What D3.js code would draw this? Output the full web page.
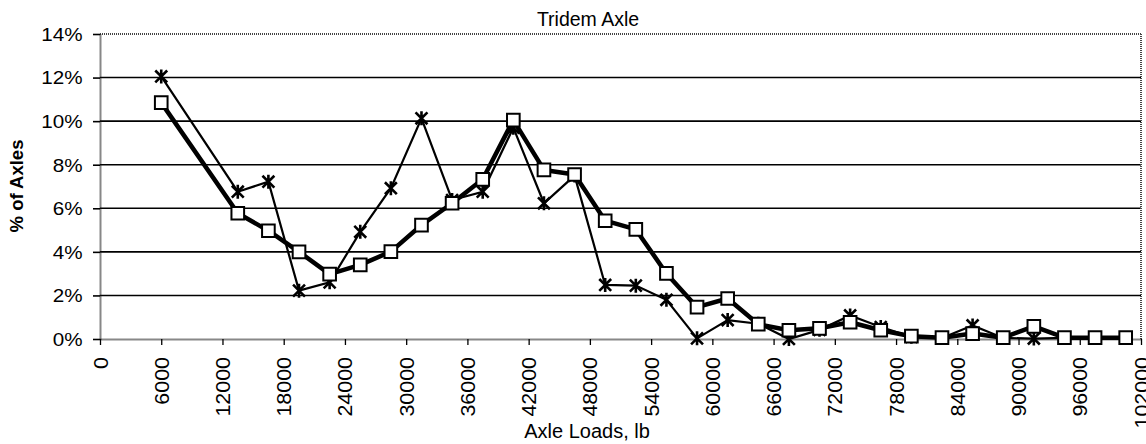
<!DOCTYPE html>
<html>
<head>
<meta charset="utf-8">
<script src="https://cdn.jsdelivr.net/npm/d3@7"></script>
<style>
  html, body { margin: 0; padding: 0; background: #fff; }
  svg { display: block; font-family: "Liberation Sans", Arial, sans-serif; }
</style>
</head>
<body>
<svg id="chart" width="1146" height="444"></svg>
<script>
// ---- data ----
const axleLoads = [6000, 13500, 16500, 19500, 22500, 25500, 28500, 31500, 34500, 37500, 40500,
  43500, 46500, 49500, 52500, 55500, 58500, 61500, 64500, 67500, 70500, 73500, 76500,
  79500, 82500, 85500, 88500, 91500, 94500, 97500, 100500];
// thin line, asterisk markers (% of axles)
const seriesStar = [12.05, 6.76, 7.22, 2.22, 2.6, 4.92, 6.92, 10.13, 6.38, 6.76, 9.7,
  6.23, 7.5, 2.48, 2.45, 1.8, 0.03, 0.87, 0.7, 0.0, 0.42, 1.08, 0.55,
  0.1, 0.05, 0.62, 0.05, 0.02, 0.05, 0.05, 0.05];
// thick line, square markers (% of axles)
const seriesSquare = [10.85, 5.77, 4.97, 4.0, 2.98, 3.4, 4.01, 5.23, 6.23, 7.33, 10.05,
  7.76, 7.55, 5.43, 5.03, 3.01, 1.46, 1.86, 0.68, 0.4, 0.49, 0.77, 0.4,
  0.13, 0.06, 0.25, 0.06, 0.58, 0.06, 0.06, 0.06];
const xTicks = [0, 6000, 12000, 18000, 24000, 30000, 36000, 42000, 48000, 54000, 60000,
  66000, 72000, 78000, 84000, 90000, 96000, 102000];
const yTicks = [0, 2, 4, 6, 8, 10, 12, 14];
const chartTitle = "Tridem Axle";
const xTitle = "Axle Loads, lb";
const yTitle = "% of Axles";

(function () {
// ---- layout ----
const svg = d3.select("#chart");
const pL = 100, pR = 1141, pT = 34, pB = 339;
const FONT = "'Liberation Sans', Arial, sans-serif";

const x = d3.scaleLinear().domain([0, 102000]).range([pL, pR]);
const y = d3.scaleLinear().domain([0, 14]).range([pB, pT]);

// gridlines
svg.append("g").selectAll("line")
  .data(yTicks.filter(d => d > 0 && d < 14))
  .join("line")
  .attr("x1", pL).attr("x2", pR)
  .attr("y1", d => y(d)).attr("y2", d => y(d))
  .attr("stroke", "#000").attr("stroke-width", 1.6);

// plot border (dotted)
svg.append("line").attr("x1", pL).attr("x2", pR).attr("y1", pT).attr("y2", pT)
  .attr("stroke", "#444").attr("stroke-width", 2).attr("stroke-dasharray", "1,1");
svg.append("line").attr("x1", pR).attr("x2", pR).attr("y1", pT).attr("y2", pB)
  .attr("stroke", "#444").attr("stroke-width", 2).attr("stroke-dasharray", "1,1");

// y axis
const yAxis = svg.append("g").attr("transform", `translate(${pL},0)`)
  .call(d3.axisLeft(y).tickValues(yTicks).tickFormat(d => d + "%").tickSize(7).tickSizeOuter(0));
yAxis.select(".domain").attr("stroke", "#111").attr("stroke-width", 2).attr("stroke-dasharray", "1,1");
yAxis.selectAll(".tick line").attr("stroke", "#000").attr("stroke-width", 1.6);
yAxis.selectAll(".tick text")
  .attr("font-size", 17.5).attr("fill", "#000").attr("font-family", FONT)
  .attr("x", -17.5 / 1.18).attr("dy", "0.36em")
  .attr("transform", "scale(1.18,1)");

// x axis
const xAxis = svg.append("g").attr("transform", `translate(0,${pB})`)
  .call(d3.axisBottom(x).tickValues(xTicks).tickFormat(d => String(d)).tickSize(6).tickSizeOuter(0));
xAxis.select(".domain").attr("stroke", "#111").attr("stroke-width", 2).attr("stroke-dasharray", "1,1");
xAxis.selectAll(".tick line").attr("stroke", "#000").attr("stroke-width", 1.3);
xAxis.selectAll(".tick text")
  .attr("font-size", 19.5).attr("fill", "#000").attr("font-family", FONT)
  .attr("transform", "rotate(-90) scale(1.1,1)")
  .attr("x", -18 / 1.1).attr("y", 0).attr("dy", "0.36em")
  .attr("text-anchor", "end");

// titles
svg.append("text").attr("x", 588).attr("y", 26).attr("text-anchor", "middle")
  .attr("font-size", 19.5).attr("font-family", FONT).attr("fill", "#000").text(chartTitle);
svg.append("text").attr("x", 587).attr("y", 438).attr("text-anchor", "middle")
  .attr("font-size", 20).attr("font-family", FONT).attr("fill", "#000").text(xTitle);
svg.append("text").attr("transform", `translate(23,186) rotate(-90)`)
  .attr("text-anchor", "middle").attr("font-size", 18.5).attr("font-weight", "bold")
  .attr("font-family", FONT).attr("fill", "#000").text(yTitle);

// series lines
const starData = axleLoads.map((v, i) => [v, seriesStar[i]]);
const squareData = axleLoads.map((v, i) => [v, seriesSquare[i]]);
const line = d3.line().x(d => x(d[0])).y(d => y(d[1]));

svg.append("path").datum(starData).attr("d", line)
  .attr("fill", "none").attr("stroke", "#000").attr("stroke-width", 2.2);

// asterisk markers (X plus vertical bar)
const starSymbol = {
  draw(ctx, size) {
    const r = Math.sqrt(size) / 2;
    const k = r * 0.85;
    ctx.moveTo(-k, -k); ctx.lineTo(k, k);
    ctx.moveTo(-k, k); ctx.lineTo(k, -k);
    ctx.moveTo(0, -r); ctx.lineTo(0, r);
  }
};
svg.append("g").selectAll("path")
  .data(starData).join("path")
  .attr("transform", d => `translate(${x(d[0])},${y(d[1])})`)
  .attr("d", d3.symbol().type(starSymbol).size(196))
  .attr("fill", "none").attr("stroke", "#000").attr("stroke-width", 2.6);

svg.append("path").datum(squareData).attr("d", line)
  .attr("fill", "none").attr("stroke", "#000").attr("stroke-width", 4.5)
  .attr("stroke-linejoin", "round");

svg.append("g").selectAll("path")
  .data(squareData).join("path")
  .attr("transform", d => `translate(${x(d[0])},${y(d[1])})`)
  .attr("d", d3.symbol().type(d3.symbolSquare).size(160))
  .attr("fill", "#fff").attr("stroke", "#000").attr("stroke-width", 2);
})();
</script>
</body>
</html>
